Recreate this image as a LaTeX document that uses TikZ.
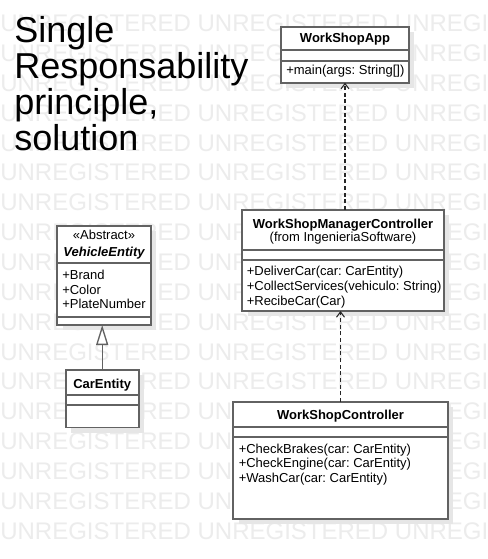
\documentclass[tikz,border=0pt]{standalone}
\usepackage{fontspec}
\setmainfont{Liberation Sans}
\usetikzlibrary{arrows.meta,fit,shadows}
\definecolor{wmark}{HTML}{ECECEC}
\definecolor{bord}{HTML}{626262}
\definecolor{shad}{HTML}{E6E6E6}
\tikzset{
  wmtext/.style={text=wmark, font=\fontsize{18}{18}\selectfont, inner sep=0, anchor=base west},
  titletext/.style={font=\fontsize{27}{27}\selectfont, inner sep=0, anchor=base west},
  cls/.style={draw=bord, line width=1.3pt, fill=white, inner sep=0, outer sep=0,
    general shadow={fill=shad, shadow xshift=4pt, shadow yshift=-4pt}},
  sepline/.style={draw=bord, line width=1.3pt},
  nm/.style={font=\fontsize{9.75}{11}\selectfont\bfseries, inner sep=0, anchor=base},
  mb/.style={font=\fontsize{9.75}{11}\selectfont, inner sep=0, anchor=base west},
  ctr/.style={font=\fontsize{9.75}{11}\selectfont, inner sep=0, anchor=base},
  dep/.style={draw=black!85, line width=0.8pt, dash pattern=on 3pt off 2pt,
    -{Straight Barb[length=4pt,width=6pt]}},
  gen/.style={draw=bord, line width=1pt, -{Triangle[length=15pt,width=9pt,fill=white]}},
}
\frenchspacing
\begin{document}
\frenchspacing
\begin{tikzpicture}[x=0.75pt,y=-0.75pt]
\useasboundingbox (0,0) rectangle (487,559);
\clip (0,0) rectangle (487,559);
\fill[white] (0,0) rectangle (487,559);
% watermark
\foreach \k in {0,...,17}{
  \node[wmtext] (wm\k) at (0,{31.7+\k*29.85}) {UNREGISTERED UNREGISTERED UNREGISTERED};
}
% title
\node[titletext] (t1) at (14,42.7) {Single};
\node[titletext] (t2) at (14,78.7) {Responsability};
\node[titletext] (t3) at (14,114.7) {principle,};
\node[titletext] (t4) at (14,150.7) {solution};

% WorkShopApp
\node[cls, fit={(281,26.7) (409,82.7)}] (app) {};
\draw[sepline] (app.west |- 0,50) -- (app.east |- 0,50);
\draw[sepline] (app.west |- 0,61) -- (app.east |- 0,61);
\node[nm] (appname) at (345,43) {WorkShopApp};
\node[mb] (appm1) at (286,75) {+main(args: String[])};

% WorkShopManagerController
\node[cls, fit={(242.3,210) (443.7,311)}] (mgr) {};
\draw[sepline] (mgr.west |- 0,250) -- (mgr.east |- 0,250);
\draw[sepline] (mgr.west |- 0,260) -- (mgr.east |- 0,260);
\node[nm] (mgrname) at (343,228.3) {WorkShopManagerController};
\node[ctr] (mgrfrom) at (343,241.3) {(from IngenieriaSoftware)};
\node[mb] (mgrm1) at (246.5,275) {+DeliverCar(car: CarEntity)};
\node[mb] (mgrm2) at (246.5,290) {+CollectServices(vehiculo: String)};
\node[mb] (mgrm3) at (246.5,305) {+RecibeCar(Car)};

% WorkShopController
\node[cls, fit={(233.3,402) (447.7,519)}] (ctrl) {};
\draw[sepline] (ctrl.west |- 0,426.7) -- (ctrl.east |- 0,426.7);
\draw[sepline] (ctrl.west |- 0,436.7) -- (ctrl.east |- 0,436.7);
\node[nm] (ctrlname) at (340.5,419.5) {WorkShopController};
\node[mb] (ctrlm1) at (238.5,453) {+CheckBrakes(car: CarEntity)};
\node[mb] (ctrlm2) at (238.5,467.7) {+CheckEngine(car: CarEntity)};
\node[mb] (ctrlm3) at (238.5,482.8) {+WashCar(car: CarEntity)};

% VehicleEntity
\node[cls, fit={(57.3,226) (150.7,325)}] (veh) {};
\draw[sepline] (veh.west |- 0,262.7) -- (veh.east |- 0,262.7);
\draw[sepline] (veh.west |- 0,316.7) -- (veh.east |- 0,316.7);
\node[ctr] (vehst) at (104,239.5) {«Abstract»};
\node[nm, font=\fontsize{9.75}{11}\selectfont\bfseries\itshape] (vehname) at (104,257) {VehicleEntity};
\node[mb] (veha1) at (62,279.4) {+Brand};
\node[mb] (veha2) at (62,294) {+Color};
\node[mb] (veha3) at (62,308.8) {+PlateNumber};

% CarEntity
\node[cls, fit={(65.7,369.7) (138.7,427.5)}] (car) {};
\draw[sepline] (car.west |- 0,394.7) -- (car.east |- 0,394.7);
\draw[sepline] (car.west |- 0,404.7) -- (car.east |- 0,404.7);
\node[nm] (carname) at (102.2,388) {CarEntity};

% connectors
\draw[dep] (mgr.north -| app.south) -- (app.south);
\draw[dep] (ctrl.north) -- (ctrl.north |- mgr.south);
\draw[gen] (car.north) -- (car.north |- veh.south);
\end{tikzpicture}
\end{document}
